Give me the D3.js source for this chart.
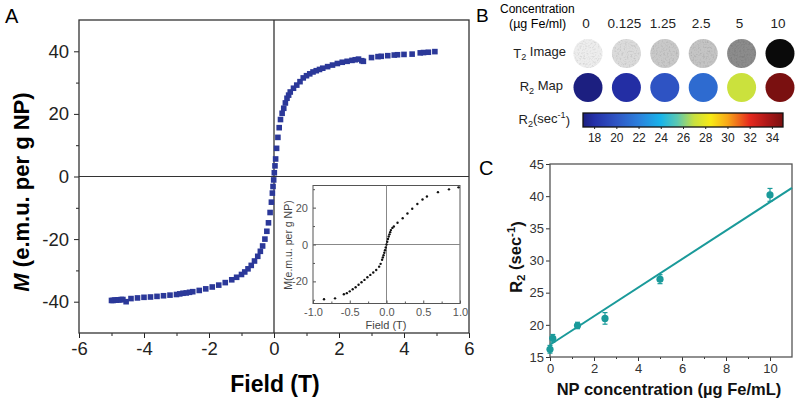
<!DOCTYPE html>
<html>
<head>
<meta charset="utf-8">
<script src="https://cdn.jsdelivr.net/npm/d3@7"></script>
<style>
body { margin: 0; background: #fff; }
svg { font-family: "Liberation Sans", Arial, sans-serif; }
</style>
</head>
<body>
<svg id="fig" width="800" height="405"></svg>
<script>
// ---- panel A : M vs field ----
var fieldA = [-5.0,-4.95,-4.9,-4.85,-4.8,-4.75,-4.7,-4.65,-4.55,-4.4,-4.2,-4.0,-3.8,-3.6,-3.4,-3.2,-3.0,-2.9,-2.8,-2.7,-2.6,-2.5,-2.3,-2.1,-1.9,-1.7,-1.5,-1.3,-1.15,-1.0,-0.9,-0.8,-0.7,-0.6,-0.5,-0.42,-0.35,-0.28,-0.22,-0.17,-0.12,-0.08,-0.05,-0.03,-0.01,
              0.01,0.03,0.05,0.08,0.12,0.16,0.2,0.25,0.3,0.35,0.4,0.45,0.5,0.6,0.7,0.8,0.9,1.0,1.1,1.2,1.3,1.4,1.5,1.65,1.8,1.95,2.1,2.25,2.4,2.5,2.6,2.7,2.75,3.0,3.2,3.3,3.5,3.7,3.8,4.0,4.25,4.5,4.6,4.75,4.95];
var magA = [-39.6,-39.6,-39.5,-39.5,-39.4,-39.4,-39.3,-39.3,-40.0,-39.0,-38.8,-38.6,-38.5,-38.3,-38.1,-37.9,-37.7,-37.5,-37.3,-37.2,-37.0,-36.8,-36.4,-35.9,-35.3,-34.7,-33.9,-33.0,-32.2,-31.3,-30.5,-29.5,-28.4,-27.0,-25.5,-23.9,-22.2,-20.0,-17.5,-14.8,-11.5,-8.2,-5.3,-3.2,-1.1,
            1.2,3.4,5.6,9.0,12.5,15.6,18.2,20.2,21.8,23.5,25.0,26.0,27.0,28.2,29.2,30.3,31.5,32.2,32.8,33.4,33.8,34.2,34.6,35.1,35.6,36.1,36.5,36.8,37.1,37.3,37.5,37.0,36.8,38.0,38.3,38.4,38.6,38.8,38.9,39.0,39.1,39.5,39.6,39.7,39.9];
var ticksA_x = [-6,-4,-2,0,2,4,6];
var ticksA_y = [-40,-20,0,20,40];

// ---- inset : low field zoom ----
var fieldIn = [-0.85,-0.7,-0.58,-0.54,-0.5,-0.46,-0.42,-0.38,-0.34,-0.3,-0.26,-0.22,-0.18,-0.14,-0.1,-0.08,-0.06,-0.05,-0.04,-0.03,-0.02,-0.01,0,0.01,0.02,0.03,0.04,0.05,0.06,0.08,0.1,0.15,0.22,0.285,0.35,0.42,0.49,0.55,0.7,0.85,0.98];
var magIn = [-29.7,-29.2,-27.0,-26.4,-25.4,-24.3,-23.2,-21.8,-20.5,-19.2,-17.8,-16.5,-15.2,-13.8,-12.0,-10.5,-8.3,-7.0,-5.8,-4.5,-3.1,-1.6,0,1.5,3.0,4.3,5.5,6.7,7.8,9.0,9.8,11.8,14.2,16.8,19.4,22.0,24.4,26.0,28.4,29.9,31.0];
var ticksIn_x = [-1.0,-0.5,0.0,0.5,1.0];
var ticksIn_y = [-20,0,20];

// ---- panel B : phantom images ----
var concLabels = ["0","0.125","1.25","2.5","5","10"];
var t2Signal = [0.93,0.86,0.79,0.77,0.55,0.04];
var cbTicks = [18,20,22,24,26,28,30,32,34];
var cbStops = [17,18,20,22,24,25.5,27,28.5,30,32,33.5,35];
var cbColors = ["#1c1f80","#2430a8","#2f55c4","#2c80dc","#18b4ea","#5cc8b0","#c8e040","#f8ea14","#f8a818","#e62a1e","#b01818","#7a1010"];

// ---- panel C : relaxivity ----
var concC = [0,0.125,1.25,2.5,5,10];
var r2Mean = [16.2,17.9,19.9,21.0,27.1,40.2];
var r2Err = [0.6,0.6,0.5,0.9,0.7,1.0];
var fitX = [0,11];
var fitY = [16.9,41.3];
var ticksC_x = [0,2,4,6,8,10];
var ticksC_y = [15,20,25,30,35,40,45];

var svg = d3.select("#fig");
var defs = svg.append("defs");

function styleAxis(g, size, color){
	g.attr("font-family", null).attr("font-size", size);
	g.select(".domain").remove();
	g.selectAll("line").attr("stroke", color);
	g.selectAll("text").attr("fill", color);
}

// subscript / superscript text helper
function richText(el, parts){
	parts.forEach(function(p){
		var t = el.append("tspan").text(p[0]);
		if (p[1] == "sub") t.attr("font-size", "70%").attr("dy", "0.3em");
		if (p[1] == "sup") t.attr("font-size", "70%").attr("dy", "-0.5em");
		if (p[1] == "back") t.attr("dy", p[2]);
	});
}

// ================= panel A =================
var xA = d3.scaleLinear().domain([-6,6]).range([79,469]);
var yA = d3.scaleLinear().domain([-50,50]).range([333,20]);

svg.append("text").attr("x",5).attr("y",23).attr("font-size",20).text("A");

var gxA = svg.append("g").attr("transform","translate(0,333)")
	.call(d3.axisBottom(xA).tickValues(ticksA_x).tickSize(5).tickPadding(4).tickFormat(function(d){ return String(d); }));
styleAxis(gxA, 18.5, "#222");
var gxA2 = svg.append("g").attr("transform","translate(0,333)")
	.call(d3.axisBottom(xA).tickValues([-5,-3,-1,1,3,5]).tickSize(3).tickFormat(""));
styleAxis(gxA2, 10, "#222");

var gyA = svg.append("g").attr("transform","translate(79,0)")
	.call(d3.axisLeft(yA).tickValues(ticksA_y).tickSize(5).tickPadding(5).tickFormat(function(d){ return String(d); }));
styleAxis(gyA, 18.5, "#222");
var gyA2 = svg.append("g").attr("transform","translate(79,0)")
	.call(d3.axisLeft(yA).tickValues([-30,-10,10,30]).tickSize(3).tickFormat(""));
styleAxis(gyA2, 10, "#222");

svg.append("rect").attr("x",xA(-6)).attr("y",yA(50))
	.attr("width",xA(6)-xA(-6)).attr("height",yA(-50)-yA(50))
	.attr("fill","none").attr("stroke","#333").attr("stroke-width",1.3);
svg.append("line").attr("x1",xA(-6)).attr("x2",xA(6)).attr("y1",yA(0)).attr("y2",yA(0))
	.attr("stroke","#333").attr("stroke-width",1.1);
svg.append("line").attr("x1",xA(0)).attr("x2",xA(0)).attr("y1",yA(50)).attr("y2",yA(-50))
	.attr("stroke","#333").attr("stroke-width",1.3);

svg.append("g").selectAll("rect")
	.data(fieldA.map(function(f,i){ return [f, magA[i]]; }))
	.enter().append("rect")
	.attr("x", function(d){ return xA(d[0]) - 2.8; })
	.attr("y", function(d){ return yA(d[1]) - 2.8; })
	.attr("width",5.6).attr("height",5.6)
	.attr("fill","#2b3899");

svg.append("text").attr("x",275).attr("y",392).attr("text-anchor","middle")
	.attr("font-size",23).attr("font-weight","bold").text("Field (T)");
var ylabA = svg.append("text").attr("transform","translate(29,192) rotate(-90)")
	.attr("text-anchor","middle").attr("font-size",22).attr("font-weight","bold");
ylabA.append("tspan").attr("font-style","italic").text("M");
ylabA.append("tspan").text(" (e.m.u. per g NP)");

// ---- inset ----
var xI = d3.scaleLinear().domain([-1,1]).range([313,460]);
var yI = d3.scaleLinear().domain([-32,32]).range([303.5,185.5]);

svg.append("rect").attr("x",xI(-1)).attr("y",yI(32))
	.attr("width",xI(1)-xI(-1)).attr("height",yI(-32)-yI(32))
	.attr("fill","#fff").attr("stroke","#555").attr("stroke-width",1);
svg.append("line").attr("x1",xI(-1)).attr("x2",xI(1)).attr("y1",yI(0)).attr("y2",yI(0))
	.attr("stroke","#888").attr("stroke-width",1);
svg.append("line").attr("x1",xI(0)).attr("x2",xI(0)).attr("y1",yI(32)).attr("y2",yI(-32))
	.attr("stroke","#888").attr("stroke-width",1);

var gxI = svg.append("g").attr("transform","translate(0,"+yI(-32)+")")
	.call(d3.axisBottom(xI).tickValues(ticksIn_x).tickSize(-3).tickPadding(5).tickFormat(function(d){ return d.toFixed(1); }));
styleAxis(gxI, 11, "#555");
var gxI2 = svg.append("g").attr("transform","translate(0,"+yI(-32)+")")
	.call(d3.axisBottom(xI).tickValues([-0.75,-0.25,0.25,0.75]).tickSize(-2).tickFormat(""));
styleAxis(gxI2, 10, "#555");
var gyI = svg.append("g").attr("transform","translate("+xI(-1)+",0)")
	.call(d3.axisLeft(yI).tickValues(ticksIn_y).tickSize(-3).tickPadding(5).tickFormat(function(d){ return String(d); }));
styleAxis(gyI, 11, "#555");
var gyI2 = svg.append("g").attr("transform","translate("+xI(-1)+",0)")
	.call(d3.axisLeft(yI).tickValues([-30,-10,10,30]).tickSize(-2).tickFormat(""));
styleAxis(gyI2, 10, "#555");

svg.append("g").selectAll("circle")
	.data(fieldIn.map(function(f,i){ return [f, magIn[i]]; }))
	.enter().append("circle")
	.attr("cx", function(d){ return xI(d[0]); })
	.attr("cy", function(d){ return yI(d[1]); })
	.attr("r",1.2).attr("fill","#111");

svg.append("text").attr("x",386).attr("y",329).attr("text-anchor","middle")
	.attr("font-size",11).attr("fill","#444").text("Field (T)");
svg.append("text").attr("transform","translate(292,245) rotate(-90)").attr("text-anchor","middle")
	.attr("font-size",10.5).attr("fill","#444").text("M(e.m.u. per g NP)");

// ================= panel B =================
var speck = defs.append("filter").attr("id","speckle").attr("x",0).attr("y",0).attr("width",1).attr("height",1);
speck.append("feTurbulence").attr("type","fractalNoise").attr("baseFrequency",0.55).attr("numOctaves",2).attr("seed",4).attr("result","noise");
speck.append("feColorMatrix").attr("in","noise").attr("type","matrix")
	.attr("values","0 0 0 0 0  0 0 0 0 0  0 0 0 0 0  0.6 0 0 0 -0.28").attr("result","dots");
speck.append("feComposite").attr("in","dots").attr("in2","SourceGraphic").attr("operator","in").attr("result","clipped");
var mrg = speck.append("feMerge");
mrg.append("feMergeNode").attr("in","SourceGraphic");
mrg.append("feMergeNode").attr("in","clipped");

var xB = d3.scalePoint().domain(concLabels).range([588,780]);
var grayB = d3.scaleLinear().domain([0,1]).range(["#000","#fff"]);
var cbColor = d3.scaleLinear().domain(cbStops).range(cbColors).clamp(true);

svg.append("text").attr("x",476).attr("y",22).attr("font-size",19).text("B");
svg.append("text").attr("x",500).attr("y",13).attr("font-size",12).text("Concentration");
svg.append("text").attr("x",509).attr("y",27.5).attr("font-size",12.5).text("(\u00b5g Fe/ml)");

svg.append("g").selectAll("text").data(concLabels).enter().append("text")
	.attr("x", function(d){ return xB(d) - 2; }).attr("y",27.5)
	.attr("text-anchor","middle").attr("font-size",13.5).attr("fill","#222")
	.text(function(d){ return d; });

var t2lab = svg.append("text").attr("x",566).attr("y",57.5).attr("text-anchor","end").attr("font-size",13).attr("fill","#222");
richText(t2lab, [["T"],["2","sub"],[" Image","back","-0.3em"]]);
svg.append("g").selectAll("circle").data(concLabels).enter().append("circle")
	.attr("cx", function(d){ return xB(d); }).attr("cy",53.5).attr("r",14.5)
	.attr("fill", function(d,i){ return grayB(t2Signal[i]); })
	.attr("filter", function(d,i){ return i < 5 ? "url(#speckle)" : null; });

var r2lab = svg.append("text").attr("x",563).attr("y",91).attr("text-anchor","end").attr("font-size",13).attr("fill","#222");
richText(r2lab, [["R"],["2","sub"],[" Map","back","-0.3em"]]);
svg.append("g").selectAll("circle").data(concLabels).enter().append("circle")
	.attr("cx", function(d){ return xB(d); }).attr("cy",87.5).attr("r",14.5)
	.attr("fill", function(d,i){ return cbColor(r2Mean[i]); });

// colour bar
var xCb = d3.scaleLinear().domain([17,35]).range([583,783]);
var grad = defs.append("linearGradient").attr("id","cbGrad").attr("x1","0%").attr("x2","100%").attr("y1","0%").attr("y2","0%");
cbStops.forEach(function(s,i){
	grad.append("stop").attr("offset", ((s-17)/18*100) + "%").attr("stop-color", cbColors[i]);
});
svg.append("rect").attr("x",xCb(17)).attr("y",113).attr("width",xCb(35)-xCb(17)).attr("height",14)
	.attr("fill","url(#cbGrad)").attr("stroke","#111").attr("stroke-width",1.3);
var gCb = svg.append("g").attr("transform","translate(0,127)")
	.call(d3.axisBottom(xCb).tickValues(cbTicks).tickSize(2).tickPadding(4).tickFormat(function(d){ return String(d); }));
styleAxis(gCb, 12, "#222");
var cblab = svg.append("text").attr("x",570).attr("y",124).attr("text-anchor","end").attr("font-size",13).attr("fill","#222");
richText(cblab, [["R"],["2","sub"],["(sec","back","-0.3em"],["-1","sup"],[")","back","0.5em"]]);

// ================= panel C =================
var xC = d3.scaleLinear().domain([0,11]).range([550,792]);
var yC = d3.scaleLinear().domain([15,45]).range([357,164]);
var teal = "#1a9a9a";

svg.append("text").attr("x",479).attr("y",175).attr("font-size",20).text("C");

var gxC = svg.append("g").attr("transform","translate(0,357)")
	.call(d3.axisBottom(xC).tickValues(ticksC_x).tickSize(4).tickPadding(3).tickFormat(function(d){ return String(d); }));
styleAxis(gxC, 13, "#333");
var gxC2 = svg.append("g").attr("transform","translate(0,357)")
	.call(d3.axisBottom(xC).tickValues([1,3,5,7,9]).tickSize(2).tickFormat(""));
styleAxis(gxC2, 10, "#333");
var gyC = svg.append("g").attr("transform","translate(550,0)")
	.call(d3.axisLeft(yC).tickValues(ticksC_y).tickSize(4).tickPadding(2).tickFormat(function(d){ return String(d); }));
styleAxis(gyC, 13, "#333");

svg.append("rect").attr("x",xC(0)).attr("y",yC(45)).attr("width",xC(11)-xC(0)).attr("height",yC(15)-yC(45))
	.attr("fill","none").attr("stroke","#555").attr("stroke-width",1.3);

svg.append("line").attr("x1",xC(fitX[0])).attr("y1",yC(fitY[0])).attr("x2",xC(fitX[1])).attr("y2",yC(fitY[1]))
	.attr("stroke",teal).attr("stroke-width",2);

var pts = svg.append("g").selectAll("g").data(concC).enter().append("g");
pts.append("line").attr("x1", function(d){ return xC(d); }).attr("x2", function(d){ return xC(d); })
	.attr("y1", function(d,i){ return yC(r2Mean[i]-r2Err[i]); }).attr("y2", function(d,i){ return yC(r2Mean[i]+r2Err[i]); })
	.attr("stroke",teal).attr("stroke-width",1.2);
pts.append("line").attr("x1", function(d){ return xC(d)-2.5; }).attr("x2", function(d){ return xC(d)+2.5; })
	.attr("y1", function(d,i){ return yC(r2Mean[i]+r2Err[i]); }).attr("y2", function(d,i){ return yC(r2Mean[i]+r2Err[i]); })
	.attr("stroke",teal).attr("stroke-width",1.2);
pts.append("line").attr("x1", function(d){ return xC(d)-2.5; }).attr("x2", function(d){ return xC(d)+2.5; })
	.attr("y1", function(d,i){ return yC(r2Mean[i]-r2Err[i]); }).attr("y2", function(d,i){ return yC(r2Mean[i]-r2Err[i]); })
	.attr("stroke",teal).attr("stroke-width",1.2);
pts.append("circle").attr("cx", function(d){ return xC(d); }).attr("cy", function(d,i){ return yC(r2Mean[i]); })
	.attr("r",3.6).attr("fill",teal);

svg.append("text").attr("x",669).attr("y",395).attr("text-anchor","middle")
	.attr("font-size",16.5).attr("font-weight","bold").attr("fill","#111").text("NP concentration (\u00b5g Fe/mL)");
var ylabC = svg.append("text").attr("transform","translate(522,257) rotate(-90)").attr("text-anchor","middle")
	.attr("font-size",16.5).attr("font-weight","bold").attr("fill","#111");
richText(ylabC, [["R"],["2","sub"],[" (sec","back","-0.3em"],["-1","sup"],[")","back","0.5em"]]);
</script>
</body>
</html>
